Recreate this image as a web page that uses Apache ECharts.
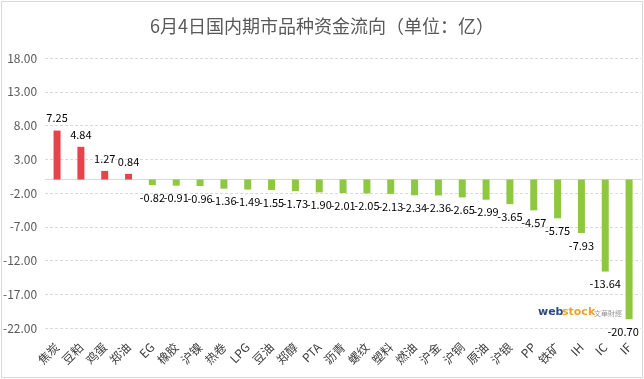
<!DOCTYPE html>
<html>
<head>
<meta charset="utf-8">
<script src="https://cdn.jsdelivr.net/npm/echarts@6/dist/echarts.min.js"></script>
<style>
html,body{margin:0;padding:0;background:#fff;}
#wrap{position:absolute;left:1px;top:1px;width:640px;height:375px;border:1px solid #d9d9d9;}
#c{position:absolute;left:0;top:0;width:644px;height:379px;}
</style>
</head>
<body>
<div id="wrap"></div>
<div id="c"></div>
<script>
const titleText = '6月4日国内期市品种资金流向（单位：亿）';
const categories = ['焦炭','豆粕','鸡蛋','郑油','EG','橡胶','沪镍','热卷','LPG','豆油','郑醇','PTA','沥青','螺纹','塑料','燃油','沪金','沪铜','原油','沪银','PP','铁矿','IH','IC','IF'];
const flows = [7.25,4.84,1.27,0.84,-0.82,-0.91,-0.96,-1.36,-1.49,-1.55,-1.73,-1.90,-2.01,-2.05,-2.13,-2.34,-2.36,-2.65,-2.99,-3.65,-4.57,-5.75,-7.93,-13.64,-20.70];
const yMin = -22, yMax = 18, yStep = 5;

const chart = echarts.init(document.getElementById('c'), null, {renderer:'canvas'});
const font = '"Noto Sans CJK SC", "Noto Sans", sans-serif';
const lastIdx = flows.length - 1;
chart.setOption({
  animation:false,
  backgroundColor:'transparent',
  title:{
    text:titleText, left:145, top:12,
    textStyle:{fontFamily:font, fontSize:18, fontWeight:'normal', color:'#595959'}
  },
  grid:{left:45, right:3, top:58, bottom:51, containLabel:false},
  xAxis:{
    type:'category', data:categories,
    axisLine:{show:true, onZero:true, lineStyle:{color:'#d9d9d9'}},
    axisTick:{show:false},
    axisLabel:{rotate:45, interval:0, margin:17, fontFamily:font, fontSize:12, color:'#404040'},
    position:'bottom'
  },
  yAxis:{
    type:'value', min:yMin, max:yMax, interval:yStep,
    axisLine:{show:false}, axisTick:{show:false},
    splitLine:{lineStyle:{color:'#d9d9d9', type:[3,2]}},
    axisLabel:{margin:8, fontFamily:font, fontSize:12, color:'#595959', formatter:v=>v.toFixed(2)}
  },
  series:[{
    type:'bar', barWidth:7,
    data:flows.map((v,i)=>({value:v, label:{position: v>=0?'top':'bottom', offset: i===lastIdx?[-6,0]:[0,0]}})),
    itemStyle:{color:p=>p.value>=0?'#e8434a':'#8dc840'},
    label:{
      show:true, fontFamily:font, fontSize:11, color:'#000',
      distance:7,
      formatter:p=>p.value.toFixed(2)
    }
  }],
  graphic:[
    {type:'text', left:538, top:307, style:{text:'web', fontFamily:'DejaVu Sans', fontWeight:'bold', fontSize:11, fill:'#2d4a86'}},
    {type:'text', left:562, top:307, style:{text:'stock', fontFamily:'DejaVu Sans', fontWeight:'bold', fontSize:11, fill:'#f0a02a'}},
    {type:'text', left:594, top:310, style:{text:'文華財經', fontFamily:font, fontSize:7, fill:'#9a9a9a'}}
  ]
});
</script>
</body>
</html>
